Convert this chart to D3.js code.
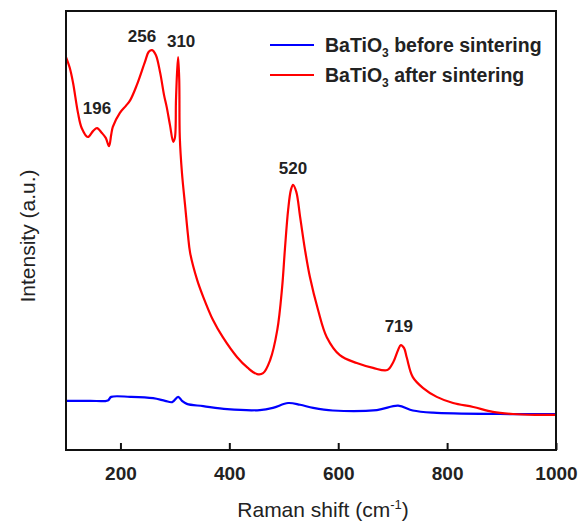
<!DOCTYPE html>
<html>
<head>
<meta charset="utf-8">
<script src="https://cdn.jsdelivr.net/npm/d3@7"></script>
<style>
  body { margin: 0; background: #fff; }
  text { font-family: "Liberation Sans", Arial, sans-serif; }
</style>
</head>
<body>
<script>
// Raman spectra, intensity in arbitrary units
var shiftAfter = [100, 107, 113, 122, 129, 140, 150, 157, 166, 173, 179, 183, 186, 199, 210, 218, 230, 245, 252, 258, 265, 273, 280, 285, 291, 297, 300, 302, 304, 306, 308, 309, 313, 319, 324, 328, 341, 352, 370, 388, 414, 434, 451, 462, 475, 488, 497, 502, 508, 513, 517, 523, 530, 539, 548, 563, 579, 603, 634, 664, 690, 701, 710, 715, 721, 726, 737, 756, 781, 811, 848, 884, 921, 961, 1000];
var intAfter = [89.5, 87.0, 83.6, 76.8, 73.3, 71.3, 72.7, 73.3, 72.2, 71.1, 69.2, 71.8, 73.6, 76.8, 78.4, 79.7, 83.1, 88.4, 90.7, 91.1, 90.0, 85.9, 80.9, 78.1, 74.0, 70.2, 71.1, 79.7, 86.0, 89.5, 84.3, 71.3, 63.1, 55.4, 49.0, 44.9, 38.7, 34.9, 29.6, 25.7, 21.2, 18.7, 17.3, 17.5, 20.5, 27.3, 37.1, 45.6, 54.7, 59.2, 60.4, 58.8, 53.1, 45.6, 39.4, 31.9, 25.7, 21.6, 19.8, 18.7, 18.2, 20.0, 22.8, 23.9, 23.2, 21.0, 16.6, 14.1, 12.1, 10.7, 9.8, 8.7, 8.2, 8.0, 8.0];

var shiftBefore = [100, 144, 177, 183, 218, 260, 282, 295, 306, 313, 322, 352, 396, 456, 480, 508, 530, 554, 590, 671, 710, 737, 774, 897, 1000];
var intBefore = [11.2, 11.2, 11.3, 12.1, 12.1, 11.8, 11.2, 10.9, 12.1, 11.2, 10.5, 10.0, 9.3, 9.1, 9.6, 10.7, 10.3, 9.6, 9.0, 9.1, 10.1, 9.0, 8.5, 8.2, 8.2];

var peakLabels = ["196", "256", "310", "520", "719"];
var peakX = [157, 258, 306, 517, 715];
var peakY = [73.3, 91.1, 89.5, 60.4, 23.9];

var xTicks = [200, 400, 600, 800, 1000];
var seriesNames = ["before sintering", "after sintering"];
var seriesColors = ["#0000ff", "#ff0000"];

var width = 580, height = 524;
var margin = {left: 66, right: 24, top: 11, bottom: 74};

var svg = d3.select("body").append("svg")
            .attr("width", width)
            .attr("height", height);

var x = d3.scaleLinear().domain([100, 1000]).range([margin.left, width - margin.right]);
var y = d3.scaleLinear().domain([0, 100]).range([height - margin.bottom, margin.top]);

var line = d3.line()
             .x(d => x(d[0]))
             .y(d => y(d[1]))
             .curve(d3.curveCatmullRom.alpha(0.5));

var before = d3.zip(shiftBefore, intBefore);
var after = d3.zip(shiftAfter, intAfter);

svg.append("path")
   .datum(before)
   .attr("d", line)
   .attr("fill", "none")
   .attr("stroke", seriesColors[0])
   .attr("stroke-width", 2.2);

svg.append("path")
   .datum(after)
   .attr("d", line)
   .attr("fill", "none")
   .attr("stroke", seriesColors[1])
   .attr("stroke-width", 2.2)
   .attr("stroke-linejoin", "round");

// frame
svg.append("rect")
   .attr("x", margin.left)
   .attr("y", margin.top)
   .attr("width", width - margin.left - margin.right)
   .attr("height", height - margin.top - margin.bottom)
   .attr("fill", "none")
   .attr("stroke", "#111")
   .attr("stroke-width", 2);

// bottom axis, ticks pointing inward
var xAxis = svg.append("g")
   .attr("transform", "translate(0," + y(0) + ")")
   .call(d3.axisBottom(x).tickValues(xTicks).tickFormat(d3.format("d"))
           .tickSizeInner(-7).tickSizeOuter(0).tickPadding(17));
xAxis.select(".domain").remove();
xAxis.selectAll("line").attr("stroke", "#111").attr("stroke-width", 2);
xAxis.selectAll("text")
     .attr("fill", "#222")
     .style("font-size", "19px")
     .style("font-weight", "bold")
     .style("font-family", "'Liberation Sans', Arial, sans-serif");

// axis titles
var xTitle = svg.append("text")
   .attr("x", 323)
   .attr("y", 517)
   .attr("text-anchor", "middle")
   .style("font-size", "21px")
   .attr("fill", "#222");
xTitle.append("tspan").text("Raman shift (cm");
xTitle.append("tspan").attr("dy", -8).style("font-size", "13px").text("-1");
xTitle.append("tspan").attr("dy", 8).text(")");

svg.append("text")
   .attr("transform", "translate(35,236) rotate(-90)")
   .attr("text-anchor", "middle")
   .style("font-size", "21px")
   .attr("fill", "#222")
   .text("Intensity (a.u.)");

// peak labels
var labelOffset = [[0, -14], [-10, -8], [3, -10], [0, -11], [-2, -13]];
svg.selectAll(".peak")
   .data(peakLabels)
   .enter()
   .append("text")
   .attr("class", "peak")
   .attr("x", (d, i) => x(peakX[i]) + labelOffset[i][0])
   .attr("y", (d, i) => y(peakY[i]) + labelOffset[i][1])
   .attr("text-anchor", "middle")
   .style("font-size", "17px")
   .style("font-weight", "bold")
   .attr("fill", "#222")
   .text(d => d);

// legend
var legend = svg.selectAll(".legend")
   .data(seriesNames)
   .enter()
   .append("g")
   .attr("class", "legend")
   .attr("transform", (d, i) => "translate(270," + (45 + i * 30) + ")");

legend.append("line")
      .attr("x1", 0).attr("x2", 44)
      .attr("stroke", (d, i) => seriesColors[i])
      .attr("stroke-width", 2.2);

var lt = legend.append("text")
      .attr("x", 55)
      .attr("y", 7)
      .style("font-size", "19.5px")
      .style("font-weight", "bold")
      .attr("fill", "#222");
lt.append("tspan").text("BaTiO");
lt.append("tspan").attr("dy", 5).style("font-size", "12px").text("3");
lt.append("tspan").attr("dy", -5).text(d => " " + d);
</script>
</body>
</html>
